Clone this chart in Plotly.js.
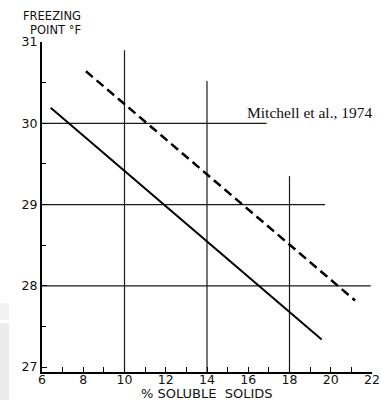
<!DOCTYPE html>
<html><head><meta charset="utf-8">
<script src="https://cdn.plot.ly/plotly-3.0.1.min.js"></script>
<style>html,body{margin:0;padding:0;background:#fff}</style>
</head><body><div id="chart" style="width:381px;height:400px"></div>
<script>
// Data
const solidX = [6.42, 19.56];
const solidY = [30.19, 27.34];
const dashX = [8.13, 21.18];
const dashY = [30.64, 27.82];
// partial grid segments
const vGridX = [10, 14, 18];
const vGridTop = [30.90, 30.52, 29.35];
const hGridY = [30, 29, 28];
const hGridEnd = [16.89, 19.72, 21.94];
// axes
const xRange = [6, 22];
const yRange = [26.94, 31];
const xTicks = [6, 8, 10, 12, 14, 16, 18, 20, 22];
const yTicks = [27, 28, 29, 30, 31];
const xTitle = '% SOLUBLE  SOLIDS';
const yTitleLines = ['FREEZING', 'POINT °F'];
const citation = 'Mitchell et al., 1974';

const gx = [], gy = [];
vGridX.forEach((v, i) => { gx.push(v, v, null); gy.push(yRange[0], vGridTop[i], null); });
hGridY.forEach((h, i) => { gx.push(xRange[0], hGridEnd[i], null); gy.push(h, h, null); });

const traces = [
  {x: gx, y: gy, mode: 'lines', line: {color: '#1a1a1a', width: 1.2}, hoverinfo: 'skip', showlegend: false},
  {x: solidX, y: solidY, mode: 'lines', line: {color: '#000', width: 2}, showlegend: false},
  {x: dashX, y: dashY, mode: 'lines', line: {color: '#000', width: 2.5, dash: '9px,5px'}, showlegend: false}
];

const tickFont = {family: 'DejaVu Sans, Liberation Sans, sans-serif', size: 12.5, color: '#111'};
const titleFont = {family: 'DejaVu Sans, sans-serif', size: 13, color: '#111'};
const yTitleFont = {family: 'DejaVu Sans, sans-serif', size: 11.5, color: '#111'};

const layout = {
  width: 381, height: 400,
  margin: {l: 42, r: 9, t: 42, b: 28, pad: 0},
  paper_bgcolor: '#fff', plot_bgcolor: '#fff',
  showlegend: false,
  xaxis: {
    range: xRange, tickvals: xTicks, ticktext: xTicks.map(String),
    ticks: 'inside', ticklen: 5, tickwidth: 1, tickcolor: '#000',
    minor: {dtick: 1, ticks: 'inside', ticklen: 5, tickwidth: 1, tickcolor: '#000'},
    showline: true, linecolor: '#000', linewidth: 1.6,
    showgrid: false, zeroline: false, tickfont: tickFont, ticklabelstandoff: -5
  },
  yaxis: {
    range: yRange, tickvals: yTicks, ticktext: yTicks.map(String),
    ticks: 'inside', ticklen: 5, tickwidth: 1, tickcolor: '#000',
    minor: {tickvals: [27.5, 28.5, 29.5, 30.5], ticks: 'inside', ticklen: 4, tickwidth: 1, tickcolor: '#000'},
    showline: true, linecolor: '#000', linewidth: 2,
    showgrid: false, zeroline: false, tickfont: tickFont
  },
  annotations: [
    {text: yTitleLines[0], xref: 'paper', yref: 'paper', x: 0.124, y: 1.0795, xanchor: 'right', yanchor: 'middle',
     showarrow: false, font: yTitleFont},
    {text: yTitleLines[1], xref: 'paper', yref: 'paper', x: 0.124, y: 1.0355, xanchor: 'right', yanchor: 'middle',
     showarrow: false, font: yTitleFont},
    {text: xTitle, xref: 'paper', yref: 'paper', x: 0.5, y: -0.0645, xanchor: 'center', yanchor: 'middle',
     showarrow: false, font: titleFont},
    {text: citation, xref: 'paper', yref: 'paper', x: 1.01, y: 0.786, xanchor: 'right', yanchor: 'middle',
     showarrow: false, font: {family: 'Liberation Serif, DejaVu Serif, serif', size: 15.5, color: '#111'}}
  ],
  shapes: [
    {type: 'rect', xref: 'paper', yref: 'paper', x0: -0.13, x1: -0.1, y0: 0.157, y1: 0.208, fillcolor: '#f2f2f2', line: {width: 0}, layer: 'below'},
    {type: 'rect', xref: 'paper', yref: 'paper', x0: -0.13, x1: -0.1, y0: -0.09, y1: 0.148, fillcolor: '#ebebeb', line: {width: 0}, layer: 'below'}
  ]
};

Plotly.newPlot('chart', traces, layout, {displayModeBar: false, staticPlot: true});
</script>
</body></html>
